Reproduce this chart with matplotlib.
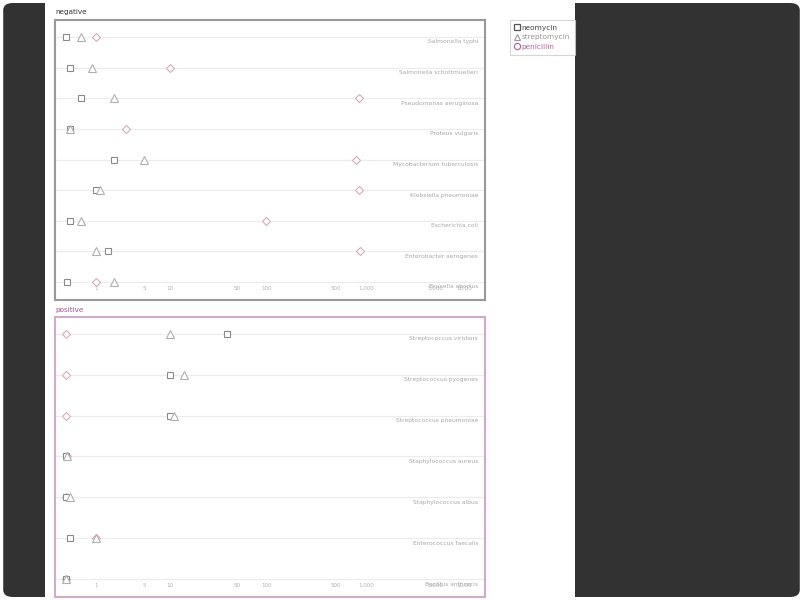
import numpy as np
import matplotlib
matplotlib.use("Agg")
import matplotlib.pyplot as plt
from matplotlib.lines import Line2D
from matplotlib.patches import Rectangle, FancyBboxPatch
from matplotlib import transforms

# ---------------- data ----------------
neg_bacteria = ["Salmonella typhi", "Salmonella schottmuelleri", "Pseudomonas aeruginosa",
                "Proteus vulgaris", "Mycobacterium tuberculosis", "Klebsiella pneumoniae",
                "Escherichia coli", "Enterobacter aerogenes", "Brucella abortus"]
neg_neomycin = [0.008, 0.09, 0.4, 0.1, 2, 1, 0.1, 1.6, 0.02]
neg_streptomycin = [0.4, 0.8, 2, 0.1, 5, 1.2, 0.4, 1, 2]
neg_penicillin = [1, 10, 850, 3, 800, 850, 100, 870, 1]

pos_bacteria = ["Streptococcus viridans", "Streptococcus pyogenes", "Streptococcus pneumoniae",
                "Staphylococcus aureus", "Staphylococcus albus", "Enterococcus faecalis",
                "Bacillus anthracis"]
pos_neomycin = [40, 10, 10, 0.001, 0.001, 0.1, 0.007]
pos_streptomycin = [10, 14, 11, 0.03, 0.1, 1, 0.01]
pos_penicillin = [0.005, 0.001, 0.005, 0.03, 0.007, 1, 0.001]

tick_values = [1, 5, 10, 50, 100, 500, 1000, 5000, 10000]
tick_labels = ["1", "5", "10", "50", "100", "500", "1,000", "5,000", "10,000"]

antibiotics = ["neomycin", "streptomycin", "penicillin"]

# ---------------- style ----------------
W, H = 803, 600
DPI = 100
fig = plt.figure(figsize=(W / DPI, H / DPI), dpi=DPI, facecolor="white")

fig.patches.append(FancyBboxPatch((0.004, 0.005), 0.992, 0.99,
                                  boxstyle="round,pad=0,rounding_size=0.012",
                                  transform=fig.transFigure, facecolor="#323232",
                                  edgecolor="none", zorder=-10))
fig.patches.append(Rectangle((45 / W, 0), (575 - 45) / W, 1, transform=fig.transFigure,
                             facecolor="white", edgecolor="none", zorder=-9))

col_neo = "#8a8a8a"
col_str = "#b0b0b0"
col_pen_neg = "#d9a9bf"
col_pen_pos = "#e4a5c2"
col_pen_txt = "#c05aa8"


def fwd(x):
    x = np.asarray(x, dtype=float)
    return np.sign(x) * np.log10(1 + np.abs(x))


def inv(y):
    y = np.asarray(y, dtype=float)
    return np.sign(y) * (10 ** np.abs(y) - 1)


def px(v):
    return v / DPI


def facet(rect, bacteria, neo, stre, pen, frame_col, pen_col):
    ax = fig.add_axes(rect)
    ax.set_facecolor("none")
    ax.set_xscale("function", functions=(fwd, inv))
    ax.set_xlim(-0.29, 15500)
    n = len(bacteria)
    ax_h_px = rect[3] * H
    pad_top, pad_bot = 17, 18
    spacing = (ax_h_px - pad_top - pad_bot) / (n - 1)
    ax.set_ylim(n - 1 + pad_bot / spacing, -pad_top / spacing)
    rows = np.arange(n)
    for r in rows:
        ax.axhline(r, color="#ececec", lw=0.9, zorder=1)
    ax.plot(pen, rows, ls="none", marker="D", ms=4.0, mfc="white", mec=pen_col, mew=0.8, zorder=3)
    ax.plot(neo, rows, ls="none", marker="s", ms=5.0, mfc="white", mec=col_neo, mew=0.8, zorder=4)
    ax.plot(stre, rows, ls="none", marker="^", ms=5.2, mfc="white", mec=col_str, mew=0.8, zorder=5)

    off = transforms.ScaledTranslation(0, -px(5), fig.dpi_scale_trans)
    tr = transforms.blended_transform_factory(ax.transAxes, ax.transData) + off
    for r, name in zip(rows, bacteria):
        ax.text(0.984, r, name, transform=tr, ha="right", va="center", fontsize=4.3,
                color="#a8a8a8", zorder=6,
                bbox=dict(facecolor="white", edgecolor="none", pad=0.6))

    trx = transforms.blended_transform_factory(ax.transData, ax.transAxes)
    clip = Rectangle((0, 0), (472 - 55) / 430, 1, transform=ax.transAxes)
    for v, lab in zip(tick_values, tick_labels):
        t = ax.text(v, 0.041, lab, transform=trx, ha="center", va="center", fontsize=4.0,
                    color="#b0b0b0", zorder=7)
        t.set_clip_path(clip)
        t.set_clip_on(True)

    ax.set_xticks([])
    ax.set_yticks([])
    ax.minorticks_off()
    for s in ax.spines.values():
        s.set_color(frame_col)
        s.set_linewidth(1.5)
    return ax


ax_neg = facet([55 / W, 1 - 300 / H, 430 / W, 280 / H], neg_bacteria, neg_neomycin,
               neg_streptomycin, neg_penicillin, "#9a9a9a", col_pen_neg)
ax_pos = facet([55 / W, 1 - 597 / H, 430 / W, 280 / H], pos_bacteria, pos_neomycin,
               pos_streptomycin, pos_penicillin, "#d4aacb", col_pen_pos)

fig.text(55 / W, 1 - 12 / H, "negative", fontsize=5.2, color="#333333", ha="left", va="center")
fig.text(55 / W, 1 - 310 / H, "positive", fontsize=5.2, color="#b04a9e", ha="left", va="center")

handles = [
    Line2D([], [], ls="none", marker="s", ms=4.5, mfc="white", mec="#555555", mew=0.9),
    Line2D([], [], ls="none", marker="^", ms=5, mfc="white", mec="#999999", mew=0.8),
    Line2D([], [], ls="none", marker="o", ms=4.5, mfc="white", mec=col_pen_txt, mew=0.8),
]
leg = fig.legend(handles, antibiotics, loc="upper left",
                 bbox_to_anchor=(510 / W, 1 - 20 / H), fontsize=5.3, frameon=True,
                 fancybox=False, edgecolor="#cccccc", handlelength=0.6, handletextpad=0.35,
                 borderpad=0.65, labelspacing=0.45, borderaxespad=0,
                 labelcolor=["#444444", "#999999", col_pen_txt])
leg.get_frame().set_linewidth(0.8)

fig.savefig("out.png", dpi=DPI, facecolor=fig.get_facecolor())
